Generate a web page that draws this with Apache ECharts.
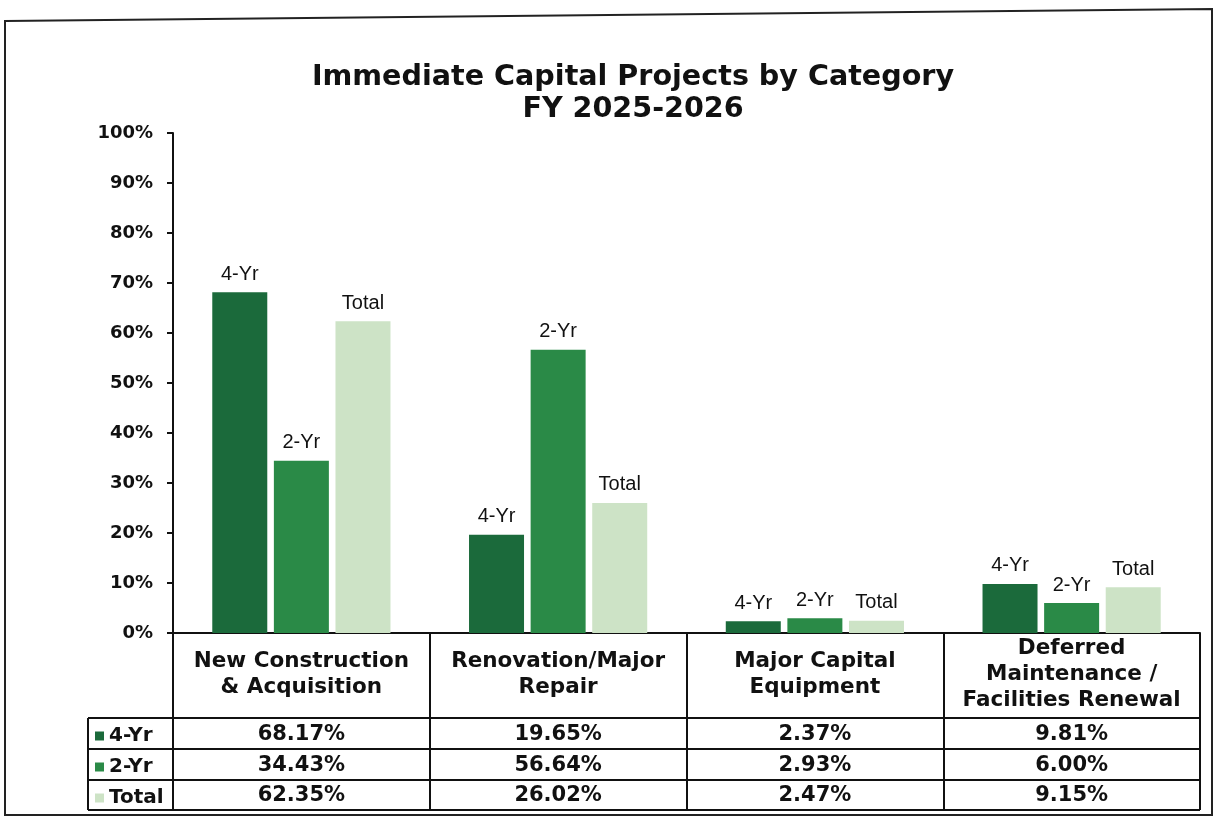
<!DOCTYPE html>
<html>
<head>
<meta charset="utf-8">
<title>Immediate Capital Projects by Category</title>
<script src="https://cdn.jsdelivr.net/npm/echarts@6/dist/echarts.min.js"></script>
<style>
  html, body { margin: 0; padding: 0; background: #fff; }
  #chart-container { width: 1219px; height: 825px; }
</style>
</head>
<body>
<div id="chart-container"></div>
<script>
// data
var categories = [
  'New Construction\n& Acquisition',
  'Renovation/Major\nRepair',
  'Major Capital\nEquipment',
  'Deferred\nMaintenance /\nFacilities Renewal'
];
var fourYr = [68.17, 19.65, 2.37, 9.81];
var twoYr = [34.43, 56.64, 2.93, 6.00];
var total = [62.35, 26.02, 2.47, 9.15];
var seriesNames = ['4-Yr', '2-Yr', 'Total'];
var yTicks = [0, 10, 20, 30, 40, 50, 60, 70, 80, 90, 100];

var dom = document.getElementById('chart-container');
var myChart = echarts.init(dom, null, { renderer: 'canvas' });

var boldFont = 'DejaVu Sans';
var colors = ['#1b6a3b', '#2a8a47', '#cde3c6'];

// layout of the plot / table
var gridLeft = 173, gridRight = 1200, axisY = 633;
var rowLines = [718, 749, 780, 810];
var tableLeft = 88;

function pct(arr) {
  return function (value, index) {
    return arr[index].toFixed(2) + '%';
  };
}

function valueAxis(arr, offset) {
  return {
    type: 'category',
    data: categories,
    position: 'bottom',
    offset: offset,
    axisLine: { show: false },
    axisTick: { show: false },
    axisLabel: {
      interval: 0,
      margin: 0,
      verticalAlign: 'middle',
      fontFamily: boldFont,
      fontWeight: 'bold',
      fontSize: 21,
      color: '#111',
      formatter: pct(arr)
    }
  };
}

function barSeries(name, data, color) {
  return {
    name: name,
    type: 'bar',
    xAxisIndex: 0,
    data: data,
    barWidth: 55,
    barGap: '12%',
    itemStyle: { color: color },
    label: {
      show: true,
      position: 'top',
      distance: 8,
      formatter: '{a}',
      fontFamily: 'Liberation Sans',
      fontSize: 20,
      color: '#111'
    }
  };
}

var tableLines = [];
rowLines.forEach(function (y) {
  tableLines.push({
    type: 'line',
    shape: { x1: tableLeft, y1: y, x2: gridRight, y2: y },
    style: { stroke: '#111', lineWidth: 2 }
  });
});
tableLines.push({
  type: 'line',
  shape: { x1: tableLeft, y1: rowLines[0], x2: tableLeft, y2: rowLines[rowLines.length - 1] },
  style: { stroke: '#111', lineWidth: 2 }
});
// outer frame of the scanned chart
tableLines.push({
  type: 'polygon',
  shape: { points: [[5, 21], [1212, 9], [1212, 815], [5, 815]] },
  style: { fill: 'none', stroke: '#222', lineWidth: 2 },
  silent: true
});

var option = {
  backgroundColor: '#fff',
  title: {
    text: 'Immediate Capital Projects by Category\nFY 2025-2026',
    left: 628,
    top: 57,
    textAlign: 'center',
    textStyle: {
      fontFamily: boldFont,
      fontWeight: 'bold',
      fontSize: 28.6,
      lineHeight: 32,
      color: '#111'
    }
  },
  legend: {
    data: seriesNames,
    orient: 'vertical',
    left: 90,
    top: 720,
    icon: 'rect',
    itemWidth: 9,
    itemHeight: 9,
    itemGap: 9,
    textStyle: {
      fontFamily: boldFont,
      fontWeight: 'bold',
      fontSize: 20,
      lineHeight: 22,
      color: '#111'
    }
  },
  grid: {
    left: gridLeft,
    right: 1219 - gridRight,
    top: 133,
    bottom: 825 - axisY,
    containLabel: false
  },
  xAxis: [
    {
      type: 'category',
      data: categories,
      position: 'bottom',
      axisLine: { show: true, lineStyle: { color: '#111', width: 2 } },
      axisTick: {
        show: true,
        interval: 0,
        length: rowLines[rowLines.length - 1] - axisY,
        lineStyle: { color: '#111', width: 2 }
      },
      axisLabel: {
        interval: 0,
        margin: 41,
        verticalAlign: 'middle',
        fontFamily: boldFont,
        fontWeight: 'bold',
        fontSize: 21.5,
        lineHeight: 26,
        color: '#111'
      }
    },
    valueAxis(fourYr, 102),
    valueAxis(twoYr, 133),
    valueAxis(total, 163)
  ],
  yAxis: {
    type: 'value',
    min: yTicks[0],
    max: yTicks[yTicks.length - 1],
    interval: 10,
    axisLine: { show: true, lineStyle: { color: '#111', width: 2 } },
    axisTick: { show: true, length: 6, lineStyle: { color: '#111', width: 2 } },
    splitLine: { show: false },
    axisLabel: {
      margin: 20,
      fontFamily: boldFont,
      fontWeight: 'bold',
      fontSize: 18,
      color: '#111',
      formatter: '{value}%'
    }
  },
  graphic: tableLines,
  series: [
    barSeries(seriesNames[0], fourYr, colors[0]),
    barSeries(seriesNames[1], twoYr, colors[1]),
    barSeries(seriesNames[2], total, colors[2])
  ]
};

if (option && typeof option === 'object') {
  myChart.setOption(option);
}

window.addEventListener('resize', myChart.resize);
</script>
</body>
</html>
